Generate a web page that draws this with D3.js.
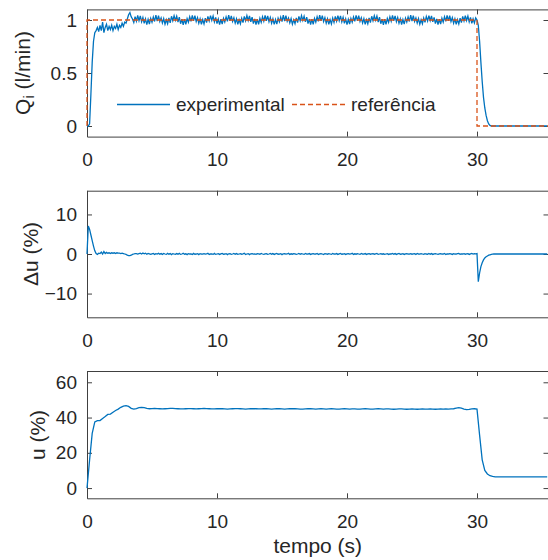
<!DOCTYPE html>
<meta charset="utf-8">
<style>

body {
  margin: 0;
}

text {
  font: 19px "Liberation Sans", Arial, Helvetica, sans-serif;
  fill: #262626;
}

text.label {
  font-size: 21px;
}

.axis path,
.axis line {
  stroke: #404040;
  stroke-width: 1;
}

.exp {
  fill: none;
  stroke: #0072BD;
  stroke-width: 1.3;
}

.ref {
  fill: none;
  stroke: #D95319;
  stroke-width: 1.3;
  stroke-dasharray: 5,3;
}

</style>
<svg width="548" height="560"></svg>
<script src="https://d3js.org/d3.v5.min.js"></script>
<script>

// sampling intervals (s)
var dtQ = 0.1,
    dtDu = 0.1,
    dtU = 0.2;

var xTicks = [0, 10, 20, 30];

// Qi experimental (l/min), one sample every dtQ
var qi = [
  // 0.0 - 3.5
  0, 0, 0.02, 0.3, 0.6, 0.8, 0.88, 0.9, 0.93, 0.89,
  0.95, 0.9, 0.98, 0.88, 0.93, 0.96, 0.9, 0.94, 0.91, 0.95,
  0.9, 0.94, 0.92, 0.96, 0.91, 0.95, 0.93, 0.97, 0.94, 0.98,
  0.97, 1.01, 1.05, 1.07, 1.03, 1.01,
  // 3.6 - 29.9
  0.977,1.032,0.990,1.043,0.994,1.038,0.984,1.024,0.968,1.010,0.957,1.006,0.962,1.016,
  0.980,1.028,0.986,1.046,0.990,1.041,0.987,1.020,0.972,1.013,0.960,1.002,0.965,1.019,
  0.974,1.035,0.993,1.040,0.997,1.036,0.981,1.027,0.965,1.008,0.955,1.009,0.959,1.014,
  0.979,1.030,0.988,1.044,0.992,1.040,0.985,1.022,0.970,1.011,0.958,1.004,0.963,1.018,
  0.976,1.034,0.991,1.042,0.996,1.037,0.983,1.025,0.967,1.009,0.956,1.007,0.961,1.015,
  0.981,1.029,0.987,1.045,0.991,1.039,0.986,1.021,0.971,1.012,0.959,1.003,0.964,1.017,
  0.975,1.033,0.992,1.041,0.995,1.038,0.982,1.026,0.966,1.010,0.957,1.008,0.960,1.016,
  0.978,1.031,0.989,1.043,0.993,1.039,0.984,1.023,0.969,1.011,0.958,1.005,0.962,1.017,
  0.982,1.027,0.985,1.047,0.989,1.042,0.988,1.019,0.973,1.014,0.961,1.001,0.966,1.020,
  0.976,1.034,0.992,1.041,0.996,1.036,0.982,1.026,0.966,1.009,0.956,1.008,0.960,1.015,
  0.979,1.030,0.988,1.045,0.991,1.040,0.985,1.022,0.970,1.012,0.958,1.004,0.963,1.018,
  0.977,1.033,0.990,1.042,0.994,1.038,0.983,1.024,0.968,1.010,0.957,1.006,0.961,1.016,
  0.980,1.029,0.987,1.044,0.992,1.041,0.986,1.021,0.971,1.013,0.959,1.003,0.964,1.019,
  0.975,1.035,0.993,1.040,0.997,1.037,0.981,1.027,0.965,1.008,0.955,1.009,0.959,1.014,
  0.978,1.031,0.989,1.043,0.993,1.039,0.984,1.023,0.969,1.011,0.957,1.005,0.962,1.017,
  0.981,1.028,0.986,1.046,0.990,1.041,0.987,1.020,0.972,1.013,0.960,1.002,0.965,1.019,
  0.977,1.032,0.991,1.042,0.995,1.038,0.983,1.025,0.967,1.010,0.956,1.007,0.961,1.016,
  0.979,1.030,0.988,1.044,0.992,1.040,0.985,1.022,0.970,1.011,0.958,1.004,0.963,1.018,
  0.976,1.034,0.991,1.042,0.995,1.037,0.983,1.025,0.968,1.012,0.972,1.02,
  // 30.0 - 31.1
  1.0, 0.95, 0.8, 0.6, 0.42, 0.27, 0.17, 0.1, 0.05, 0.02, 0.005, 0,
  // 31.2 - 35.4
  0,0,0,0,0,0,0,0,0,0, 0,0,0,0,0,0,0,0,0,0,
  0,0,0,0,0,0,0,0,0,0, 0,0,0,0,0,0,0,0,0,0, 0,0,0
];

// Qi reference step
var refT = [0, 0, 30, 30, 35.5],
    refV = [0, 1, 1, 0, 0];

// delta u (%), one sample every dtDu
var du = [
  // 0.0 - 3.9
  0, 7.1, 6.2, 4.8, 3.4, 2.0, 0.8, 0.1, -0.1, 0.2,
  0.1, 0.5, 0.0, 0.6, 0.1, 0.4, 0.2, 0.3, 0.1, 0.3,
  0.2, 0.3, 0.1, 0.3, 0.2, 0.2, 0.1, 0.2, 0.1, 0.0,
  -0.1, -0.3, -0.4, -0.4, -0.3, -0.1, 0.0, 0.1, 0.1, 0.0,
  // 4.0 - 29.9
  0.1,0.2,0,0.25,0.05,0.2,-0.05,0.15,0.05,-0.1,
  0.05,0.15,-0.1,0.1,0,0.2,-0.05,0.1,-0.1,0.15,
  0,-0.1,0.15,-0.05,0.1,-0.15,0.1,0,-0.1,0.1,
  -0.05,0.15,-0.1,0,0.2,-0.05,0.05,-0.15,0.1,0,
  0.05,-0.1,0.15,-0.05,0,0.1,-0.15,0.1,0,-0.05,
  0.1,-0.05,0,0.2,-0.1,0.05,0,-0.1,0.15,-0.1,
  0,0.1,-0.1,0.05,0.15,-0.05,0,0.1,-0.15,0.05,
  0.1,-0.1,0,0.15,-0.05,0.1,-0.1,0,0.1,-0.05,
  0.05,0.2,-0.1,0,0.1,-0.15,0.05,0.1,-0.05,0,
  -0.1,0.1,0.05,-0.05,0.15,0,-0.1,0.05,0.1,-0.1,
  0,0.15,-0.05,0.1,-0.1,0.05,0.15,-0.05,0,0.1,
  -0.15,0.05,0.1,-0.05,0,0.2,-0.1,0.05,-0.05,0.1,
  0.05,-0.1,0,0.15,-0.05,0.1,0,-0.1,0.15,0,
  -0.05,0.1,-0.1,0.05,0.1,-0.05,0,0.15,-0.1,0.05,
  0.1,0,-0.15,0.1,0.05,-0.05,0.1,0,-0.1,0.15,
  0,-0.05,0.1,-0.1,0.05,0.15,-0.05,0,0.1,-0.1,
  0.05,0.1,-0.05,0,0.2,-0.1,0.05,-0.05,0.1,0,
  -0.1,0.15,0,-0.05,0.1,-0.1,0.05,0.1,-0.05,0.05,
  0.1,-0.05,0.05,0.15,-0.1,0,0.1,-0.05,0.05,-0.1,
  0,0.1,-0.1,0.05,0,0.15,-0.05,0.1,-0.1,0.05,
  0.15,-0.05,0,0.1,-0.1,0.05,0.1,-0.05,0,0.1,
  -0.05,0.05,0.1,-0.1,0.15,0,-0.05,0.1,0,-0.1,
  0.1,0,-0.05,0.15,-0.05,0.1,-0.1,0.05,0.1,0,
  -0.1,0.05,0.1,-0.05,0,0.15,-0.1,0.05,0,0.1,
  0.05,-0.1,0.1,0,-0.05,0.1,0.15,-0.05,0.05,0,
  0.1,-0.05,0.05,0.1,-0.1,0.05,0.15,0,0.1,0.05,
  // 30.0 - 31.2
  0.1, -7.0, -4.8, -3.2, -2.2, -1.5, -1.0, -0.7, -0.5, -0.3, -0.2, -0.1, -0.05,
  // 31.3 - 35.4
  0,0,0,0,0,0,0,0,0,0, 0,0,0,0,0,0,0,0,0,0,
  0,0,0,0,0,0,0,0,0,0, 0,0,0,0,0,0,0,0,0,0, 0,0
];

// u (%), one sample every dtU
var u = [
  // 0.0 - 4.8
  0, 16, 31, 37.5, 38.2, 38.3, 39.5, 40.6, 41.8, 42.0,
  43.0, 44.0, 44.8, 45.8, 46.5, 46.8, 46.3, 45.2, 44.8, 45.1,
  45.6, 45.8, 45.6, 45.2, 45.0,
  // 5.0 - 29.8
  45.1,45.2,45.1,45.0,44.9,45.0,45.1,45.2,45.2,45.1,
  45.0,44.9,44.9,45.0,45.1,45.1,45.0,44.9,45.0,45.1,
  45.2,45.1,45.0,44.9,44.9,45.0,45.1,45.0,44.9,44.8,
  44.9,45.0,45.1,45.1,45.0,44.9,44.8,44.9,45.0,45.1,
  45.0,44.9,44.9,45.0,45.0,44.9,44.8,44.9,45.0,45.0,
  44.9,44.8,44.9,45.0,45.1,45.0,44.9,44.8,44.8,44.9,
  45.0,45.0,44.9,44.8,44.9,45.0,44.9,44.8,44.9,45.0,
  44.9,44.8,44.8,44.9,45.0,44.9,44.8,44.9,44.9,44.8,
  44.8,44.9,45.0,44.9,44.8,44.8,44.9,45.0,44.9,44.8,
  44.9,44.9,44.8,44.7,44.8,44.9,44.9,44.8,44.7,44.8,
  44.9,44.8,44.7,44.8,44.9,44.8,44.8,44.9,44.8,44.7,
  44.8,44.9,44.8,44.9,44.8,44.9,45.0,45.3,45.6,45.3,
  44.8,44.5,44.6,44.9,45.0,
  // 30.0 - 31.4
  44.8, 30, 16, 10, 8, 7, 6.6, 6.4,
  // 31.6 - 35.4
  6.4,6.4,6.4,6.4,6.4,6.4,6.4,6.4,6.4,6.4,
  6.4,6.4,6.4,6.4,6.4,6.4,6.4,6.4,6.4,6.4
];

var svg = d3.select("svg");

var x = d3.scaleLinear()
    .domain([0, 35.5])
    .range([87, 548.5]);

function panel(id, top, bottom, yDomain, yTicks) {
  var y = d3.scaleLinear().domain(yDomain).range([bottom, top]);
  var g = svg.append("g");

  g.append("clipPath")
      .attr("id", "clip" + id)
    .append("rect")
      .attr("x", x.range()[0] - 1)
      .attr("y", top - 1)
      .attr("width", x.range()[1] - x.range()[0] + 2)
      .attr("height", bottom - top + 2);

  g.append("g")
      .attr("class", "axis")
      .attr("transform", "translate(0," + bottom + ")")
      .call(d3.axisBottom(x).tickValues(xTicks).tickSizeInner(-5).tickSizeOuter(0).tickPadding(16));

  g.append("g")
      .attr("class", "axis")
      .attr("transform", "translate(0," + top + ")")
      .call(d3.axisTop(x).tickValues(xTicks).tickSizeInner(-5).tickSizeOuter(0).tickFormat(""));

  g.append("g")
      .attr("class", "axis")
      .attr("transform", "translate(" + x.range()[0] + ",0)")
      .call(d3.axisLeft(y).tickValues(yTicks).tickSizeInner(-5).tickSizeOuter(0).tickPadding(10)
        .tickFormat(d3.format("")));

  g.append("g")
      .attr("class", "axis")
      .attr("transform", "translate(" + x.range()[1] + ",0)")
      .call(d3.axisRight(y).tickValues(yTicks).tickSizeInner(-5).tickSizeOuter(0).tickFormat(""));

  // let the stylesheet decide tick label font and colour
  g.selectAll(".axis").attr("font-family", null).attr("font-size", null);
  g.selectAll(".axis text").attr("fill", null);

  var plot = g.append("g").attr("clip-path", "url(#clip" + id + ")");
  return { g: g, y: y, plot: plot };
}

// Qi
var p1 = panel(1, 9.4, 136.6, [-0.1, 1.1], [0, 0.5, 1]);
p1.plot.append("path")
    .datum(qi)
    .attr("class", "exp")
    .attr("d", d3.line()
      .x(function(d, i) { return x(i * dtQ); })
      .y(function(d) { return p1.y(d); }));
p1.plot.append("path")
    .datum(refV)
    .attr("class", "ref")
    .attr("d", d3.line()
      .x(function(d, i) { return x(refT[i]); })
      .y(function(d) { return p1.y(d); }));

// legend
var leg = p1.g.append("g").attr("transform", "translate(0,104.5)");
leg.append("line").attr("class", "exp").attr("x1", 117).attr("x2", 170);
leg.append("text").attr("x", 176).attr("dy", "0.35em").text("experimental");
leg.append("line").attr("class", "ref").attr("x1", 292).attr("x2", 345);
leg.append("text").attr("x", 351).attr("dy", "0.35em").text("referência");

var l1 = p1.g.append("text")
    .attr("class", "label")
    .attr("transform", "translate(29.5,73) rotate(-90)")
    .attr("text-anchor", "middle");
l1.append("tspan").text("Q");
l1.append("tspan").attr("baseline-shift", "-25%").style("font-size", "15px").text("i");
l1.append("tspan").text(" (l/min)");

// delta u
var p2 = panel(2, 190.7, 317.3, [-16, 16], [-10, 0, 10]);
p2.plot.append("path")
    .datum(du)
    .attr("class", "exp")
    .attr("d", d3.line()
      .x(function(d, i) { return x(i * dtDu); })
      .y(function(d) { return p2.y(d); }));

p2.g.append("text")
    .attr("class", "label")
    .attr("transform", "translate(37.5,254) rotate(-90)")
    .attr("text-anchor", "middle")
    .text("\u0394u (%)");

// u
var p3 = panel(3, 371, 498.3, [-5.8, 66.4], [0, 20, 40, 60]);
p3.plot.append("path")
    .datum(u)
    .attr("class", "exp")
    .attr("d", d3.line()
      .x(function(d, i) { return x(i * dtU); })
      .y(function(d) { return p3.y(d); }));

p3.g.append("text")
    .attr("class", "label")
    .attr("transform", "translate(45,435) rotate(-90)")
    .attr("text-anchor", "middle")
    .text("u (%)");

svg.append("text")
    .attr("class", "label")
    .attr("x", (x.range()[0] + x.range()[1]) / 2)
    .attr("y", 553)
    .attr("text-anchor", "middle")
    .text("tempo (s)");

</script>
